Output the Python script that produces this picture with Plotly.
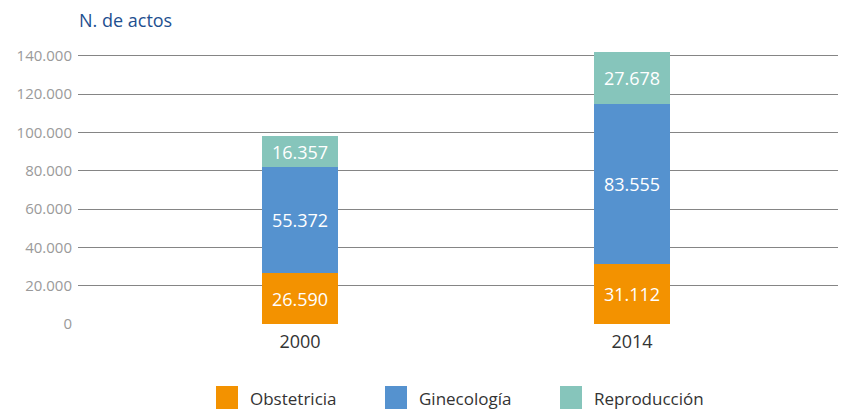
import plotly.graph_objects as go

years = ["2000", "2014"]
series_names = ["Obstetricia", "Ginecología", "Reproducción"]
obstetricia = [26590, 31112]
ginecologia = [55372, 83555]
reproduccion = [16357, 27678]
y_ticks = [0, 20000, 40000, 60000, 80000, 100000, 120000, 140000]
colors = ["#F39200", "#5592CF", "#86C5BB"]

W, H = 853, 410
L, R, T, B = 78, 15, 52, 86
pw, ph = W - L - R, H - T - B

def px_x(x):
    return (x - L) / pw

def px_y(y):
    return (H - B - y) / ph

fig = go.Figure()
xpos = list(range(len(years)))
for name, vals, col in zip(series_names, [obstetricia, ginecologia, reproduccion], colors):
    fig.add_trace(go.Bar(
        x=xpos, y=vals, name=name, marker=dict(color=col, line=dict(width=0)),
        width=0.229, texttemplate="%{y:,d}", textposition="inside",
        insidetextanchor="middle",
        textfont=dict(color="white", size=18, family="Open Sans"),
        showlegend=False, hoverinfo="skip",
    ))

# manual legend
sq_x = [216, 385, 560]
for name, col, sx in zip(series_names, colors, sq_x):
    fig.add_shape(type="rect", xref="paper", yref="paper",
                  x0=px_x(sx), x1=px_x(sx + 22), y0=px_y(409), y1=px_y(386),
                  fillcolor=col, line=dict(width=0))
    fig.add_annotation(xref="paper", yref="paper", x=px_x(sx + 32), y=px_y(398),
                       text=name, showarrow=False, xanchor="left", yanchor="middle",
                       font=dict(size=17, color="#333333", family="Open Sans"))

fig.add_annotation(xref="paper", yref="paper", x=px_x(77), y=px_y(20),
                   text="N. de actos", showarrow=False, xanchor="left", yanchor="middle",
                   font=dict(size=18, color="#1E4F8F", family="Open Sans"))

fig.update_layout(
    barmode="stack", width=W, height=H,
    margin=dict(l=L, r=R, t=T, b=B),
    paper_bgcolor="white", plot_bgcolor="white",
    separators=",.", bargap=0,
    font=dict(family="Open Sans"),
    xaxis=dict(range=[-0.6687, 1.6205], tickvals=xpos, ticktext=years,
               showgrid=False, zeroline=False, showline=False,
               ticks="outside", ticklen=1, tickcolor="rgba(0,0,0,0)",
               tickfont=dict(size=18, color="#333333")),
    yaxis=dict(range=[0, 142000], tickvals=y_ticks, tickformat=",d",
               showgrid=True, gridcolor="#858585", gridwidth=1,
               zeroline=False, showline=False,
               ticks="outside", ticklen=2, tickcolor="rgba(0,0,0,0)",
               tickfont=dict(size=15, color="#9A9A9A")),
)

fig.write_html("out.html", config={"displayModeBar": False},
               post_script="document.body.style.margin='0';")
